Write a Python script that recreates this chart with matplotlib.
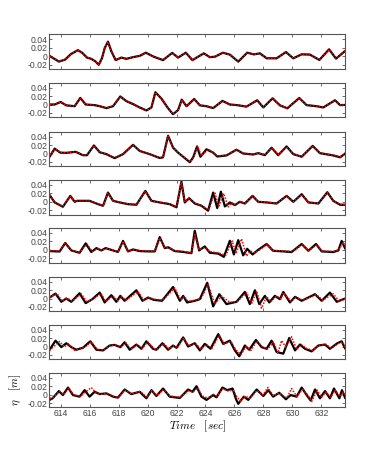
import matplotlib
matplotlib.use("Agg")
import matplotlib.pyplot as plt

# ---- data: (time [s], eta [m]) knots, panel by panel
t1 = [613.24, 613.88, 614.3, 614.7, 615.2, 615.5, 615.82, 616.12, 616.4, 616.63,
      616.85, 617.05, 617.27, 617.5, 617.8, 618.19, 618.54, 619.0, 619.46, 619.88,
      620.43, 621.07, 621.7, 622.11, 622.64, 623.1, 623.88, 624.3, 624.65, 625.2,
      625.68, 626.26, 626.88, 627.34, 627.76, 628.22, 628.91, 629.55, 630.06,
      630.64, 631.21, 631.86, 632.53, 633.01, 633.65]
eta1 = [0.001, -0.0125, -0.008, 0.005, 0.0145, 0.008, -0.003, -0.006, -0.012, -0.020,
        -0.005, 0.020, 0.0345, 0.012, -0.009, -0.003, -0.006, -0.002, 0.001, 0.0085,
        -0.001, -0.009, 0.008, -0.003, 0.0085, -0.009, 0.007, -0.002, -0.001, 0.0085,
        0.004, -0.0125, 0.0085, 0.0045, 0.007, -0.0047, -0.0047, 0.010, -0.0047,
        0.0047, 0.004, -0.0086, 0.0165, -0.0055, 0.013]

t2 = [613.24, 613.59, 614.0, 614.39, 614.97, 615.36, 615.73, 616.35, 616.7, 617.16,
      617.62, 618.12, 618.54, 619.0, 619.46, 619.92, 620.27, 620.54, 620.96, 621.42,
      621.76, 622.11, 622.36, 622.69, 623.22, 623.61, 624.07, 624.53, 625.17, 625.68,
      626.19, 626.83, 627.57, 627.99, 628.63, 629.14, 629.65, 630.47, 630.98, 631.67,
      632.13, 632.94, 633.29, 633.65]
eta2 = [0.0, 0.0, 0.006, -0.002, -0.004, 0.0155, 0.0, -0.0015, -0.004, -0.0085,
        -0.004, 0.019, 0.008, 0.001, -0.007, -0.014, -0.007, 0.029, 0.014, -0.009,
        -0.023, -0.013, 0.0115, -0.004, 0.013, -0.002, -0.004, -0.0085, 0.0085, 0.0,
        -0.0015, -0.005, 0.010, -0.007, 0.0146, -0.002, -0.009, 0.0154, -0.0015, -0.004,
        -0.007, 0.010, -0.0015, -0.001]

t3 = [613.24, 613.59, 613.98, 614.39, 615.04, 615.54, 615.82, 616.3, 616.7, 617.16,
      617.73, 618.31, 619.0, 619.46, 620.15, 620.84, 621.07, 621.42, 621.76, 622.11,
      622.92, 623.15, 623.42, 623.65, 624.07, 624.53, 624.81, 625.45, 626.14, 626.6,
      627.29, 627.64, 628.1, 628.56, 629.02, 629.6, 630.06, 630.64, 631.4, 631.9,
      632.82, 633.29, 633.65]
eta3 = [-0.0076, 0.0114, 0.002, 0.0015, 0.004, -0.004, -0.004, 0.019, 0.003, -0.0015,
        -0.011, -0.0015, 0.0205, 0.006, -0.0015, -0.0106, -0.009, 0.042, 0.014, 0.002,
        -0.0205, -0.009, 0.0167, -0.0076, 0.0099, 0.002, -0.007, -0.0046, 0.009, 0.0,
        -0.0023, 0.0008, -0.0038, 0.0137, -0.004, 0.0167, -0.0015, -0.0076, 0.018, 0.0008,
        -0.0046, -0.009, 0.0]
t3r = [613.24, 613.62, 614.0, 614.39, 615.04, 615.54, 615.82, 616.3, 616.7, 617.16,
       617.73, 618.31, 619.0, 619.46, 620.15, 620.84, 621.07, 621.42, 621.76, 622.11,
       622.95, 623.2, 623.45, 623.72, 624.2, 624.6, 624.85, 625.45, 626.14, 626.6,
       627.29, 627.64, 628.1, 628.56, 629.02, 629.6, 630.06, 630.64, 631.4, 631.9,
       632.82, 633.29, 633.65]
eta3r = [-0.004, 0.011, 0.002, 0.0015, 0.004, -0.004, -0.004, 0.0185, 0.003, -0.0015,
         -0.010, -0.0015, 0.020, 0.006, -0.0015, -0.010, -0.009, 0.041, 0.014, 0.002,
         -0.020, -0.008, 0.017, -0.005, 0.0099, 0.0, -0.006, -0.004, 0.009, 0.0,
         -0.002, 0.001, -0.003, 0.013, -0.003, 0.016, -0.001, -0.007, 0.018, 0.001,
         -0.004, -0.008, 0.001]

t4 = [613.24, 613.59, 614.16, 614.67, 614.97, 615.13, 615.5, 616.0, 616.58, 616.93,
      617.27, 617.62, 618.08, 618.65, 619.23, 619.85, 620.27, 620.84, 621.53, 622.0,
      622.34, 622.57, 622.87, 623.26, 623.72, 624.18, 624.53, 624.81, 625.06, 625.34,
      625.68, 626.03, 626.37, 626.72, 627.25, 627.64, 628.22, 628.91, 629.6, 630.06,
      630.64, 631.1, 631.79, 632.41, 632.82, 633.29, 633.65]
eta4 = [0.016, -0.0015, -0.0117, 0.014, 0.0, 0.0023, 0.0023, 0.0023, -0.0055, -0.0093,
        0.0218, 0.0023, -0.0015, -0.0055, -0.007, 0.0257, 0.0023, -0.0015, -0.0055, -0.013,
        0.0475, -0.0015, 0.0085, -0.004, -0.0093, -0.021, 0.0218, -0.0148, 0.024, -0.011,
        -0.0015, -0.0078, 0.0, -0.004, 0.014, 0.0, -0.0015, -0.004, 0.014, 0.0,
        0.018, -0.0015, -0.004, 0.0226, 0.0023, -0.007, -0.007]
t4r = [613.24, 613.59, 614.16, 614.67, 614.97, 615.13, 615.5, 616.0, 616.58, 616.93,
       617.27, 617.62, 618.08, 618.65, 619.23, 619.85, 620.27, 620.84, 621.53, 622.0,
       622.34, 622.57, 622.87, 623.26, 623.72, 624.22, 624.65, 624.92, 625.25, 625.57,
       625.8, 626.08, 626.4, 626.72, 627.25, 627.64, 628.22, 628.91, 629.6, 630.06,
       630.64, 631.1, 631.79, 632.41, 632.82, 633.29, 633.65]
eta4r = [0.016, -0.001, -0.011, 0.0135, 0.0, 0.002, 0.002, 0.002, -0.005, -0.009,
         0.021, 0.002, -0.001, -0.005, -0.006, 0.025, 0.002, -0.001, -0.005, -0.012,
         0.046, -0.001, 0.008, -0.003, -0.009, -0.019, 0.022, -0.012, 0.020, -0.012,
         -0.002, -0.007, 0.0, -0.004, 0.014, 0.0, -0.001, -0.004, 0.014, 0.0,
         0.017, -0.001, -0.004, 0.022, 0.002, -0.006, -0.007]

t5 = [613.24, 613.93, 614.32, 614.74, 615.31, 615.73, 616.12, 616.47, 616.81, 617.11,
      617.62, 617.96, 618.31, 618.65, 619.0, 619.46, 620.04, 620.5, 620.84, 621.19,
      621.42, 621.88, 622.46, 623.03, 623.26, 623.56, 623.95, 624.3, 624.88, 625.27,
      625.68, 625.96, 626.26, 626.6, 626.88, 627.25, 627.64, 628.22, 628.67, 629.37,
      629.94, 630.64, 631.1, 631.63, 632.02, 632.82, 633.17, 633.4, 633.65]
eta5 = [-0.003, -0.004, 0.016, -0.0015, -0.007, 0.0152, -0.0053, 0.004, -0.0015, 0.004,
        -0.0015, -0.005, 0.021, -0.0038, 0.0008, -0.003, -0.0038, -0.0038, 0.030, 0.004,
        0.006, -0.003, -0.005, -0.008, 0.045, -0.0015, 0.008, -0.007, -0.009, -0.0167,
        0.0213, -0.011, 0.0228, -0.013, 0.0023, -0.011, 0.0, 0.0137, -0.0023, -0.0038,
        -0.0053, 0.0137, -0.0023, 0.0137, -0.0038, -0.0053, -0.0015, 0.021, 0.0023]
t5r = [613.24, 613.93, 614.32, 614.74, 615.31, 615.82, 616.19, 616.55, 616.85, 617.15,
       617.62, 617.96, 618.31, 618.65, 619.0, 619.46, 620.04, 620.5, 620.84, 621.19,
       621.42, 621.88, 622.46, 623.03, 623.26, 623.56, 624.0, 624.3, 624.88, 625.4,
       625.85, 626.1, 626.49, 626.83, 627.1, 627.4, 627.75, 628.22, 628.67, 629.37,
       629.94, 630.7, 631.1, 631.7, 632.02, 632.82, 633.2, 633.5, 633.65]
eta5r = [-0.0015, -0.003, 0.016, -0.0015, -0.006, 0.0137, -0.004, 0.003, -0.001, 0.003,
         -0.001, -0.004, 0.020, -0.003, 0.001, -0.002, -0.003, -0.003, 0.028, 0.005,
         0.005, -0.002, -0.004, -0.007, 0.036, 0.0, 0.006, -0.004, -0.007, -0.013,
         0.021, -0.009, 0.026, -0.015, -0.003, -0.007, 0.0, 0.013, -0.002, -0.003,
         -0.004, 0.012, -0.002, 0.012, -0.003, -0.004, 0.0, 0.018, 0.008]

t6 = [613.24, 613.65, 614.05, 614.39, 614.74, 615.31, 615.73, 616.19, 616.7, 617.04,
      617.5, 617.85, 618.12, 618.42, 619.23, 619.65, 620.04, 620.43, 621.0, 621.76,
      622.23, 622.46, 622.73, 623.26, 623.61, 624.12, 624.53, 624.95, 625.45, 626.14,
      626.72, 627.06, 627.41, 627.71, 628.1, 628.4, 628.79, 629.14, 629.37, 629.83,
      630.18, 630.64, 631.56, 632.02, 632.59, 633.06, 633.52, 633.65]
eta6 = [0.0023, 0.0116, -0.0078, 0.0, -0.0078, 0.0124, -0.0109, -0.0016, 0.0140, -0.0093,
        0.0078, -0.0078, 0.0062, -0.0054, 0.0194, -0.0054, 0.0023, -0.0031, -0.0054, 0.0271,
        -0.0054, 0.0062, -0.0093, -0.0054, -0.0016, 0.0372, -0.0186, 0.0101, -0.0132, -0.0078,
        0.0155, -0.0132, 0.0194, -0.0132, 0.0062, -0.0093, 0.0062, -0.0016, 0.0155, -0.0093,
        0.0039, -0.0054, 0.0101, -0.0054, 0.0140, -0.0078, -0.0016, 0.0]
t6r = [613.24, 613.75, 614.1, 614.45, 614.8, 615.43, 615.82, 616.25, 616.8, 617.1,
       617.62, 617.95, 618.2, 618.5, 619.35, 619.75, 620.1, 620.5, 621.05, 621.88,
       622.3, 622.55, 622.8, 623.3, 623.7, 624.18, 624.65, 625.11, 625.68, 626.2,
       626.83, 627.2, 627.53, 627.87, 628.22, 628.5, 628.9, 629.2, 629.37, 629.9,
       630.25, 630.7, 631.65, 632.1, 632.82, 633.2, 633.52, 633.65]
eta6r = [0.003, 0.0116, -0.006, 0.001, -0.006, 0.011, -0.008, -0.001, 0.012, -0.007,
         0.006, -0.006, 0.005, -0.004, 0.016, -0.004, 0.002, -0.002, -0.004, 0.025,
         -0.004, 0.005, -0.007, -0.004, 0.0, 0.033, -0.013, 0.006, -0.009, -0.007,
         0.014, -0.011, 0.018, -0.023, 0.005, -0.008, 0.006, -0.001, 0.014, -0.006,
         0.003, -0.004, 0.009, -0.004, 0.011, -0.005, -0.003, -0.001]

t7 = [613.24, 613.65, 614.05, 614.39, 614.74, 615.08, 615.54, 616.05, 616.47, 616.93,
      617.39, 617.73, 618.12, 618.42, 618.77, 619.23, 619.58, 619.92, 620.38, 620.61,
      621.03, 621.42, 621.76, 622.0, 622.46, 622.8, 623.26, 623.61, 623.95, 624.35,
      624.88, 625.22, 625.68, 626.03, 626.33, 626.72, 627.02, 627.48, 627.87, 628.22,
      628.56, 628.91, 629.37, 629.78, 630.18, 630.52, 630.87, 631.33, 631.79, 632.25,
      632.59, 633.1, 633.4, 633.65]
eta7 = [-0.0077, 0.0138, -0.0015, 0.0077, -0.0015, -0.0077, -0.0031, 0.0123, -0.0077, -0.0092,
        0.0023, 0.0038, -0.0015, 0.0100, -0.0077, 0.0046, -0.0054, 0.0123, -0.0054, -0.0077,
        0.0077, -0.0077, 0.0023, -0.0031, 0.0215, 0.0, 0.0077, -0.0092, 0.0062, -0.0054,
        0.0292, 0.0062, 0.0138, -0.0092, -0.0231, 0.0023, -0.0077, 0.0154, -0.0015, -0.0054,
        0.0138, -0.0131, -0.0169, 0.0200, -0.0092, 0.0046, -0.0054, -0.0115, 0.0023, 0.0046,
        -0.0054, 0.0077, 0.0123, -0.0054]
t7r = [613.24, 613.93, 614.25, 614.55, 614.97, 615.3, 615.66, 616.12, 616.55, 617.0,
       617.45, 617.8, 618.2, 618.5, 618.85, 619.3, 619.65, 620.0, 620.45, 620.7,
       621.1, 621.5, 621.8, 622.05, 622.5, 622.85, 623.3, 623.7, 624.05, 624.45,
       624.95, 625.3, 625.75, 626.1, 626.45, 626.8, 627.15, 627.55, 627.95, 628.3,
       628.7, 629.0, 629.25, 629.55, 629.94, 630.3, 630.6, 630.95, 631.4, 631.85,
       632.3, 632.7, 633.15, 633.45, 633.65]
eta7r = [-0.009, 0.012, -0.001, 0.006, -0.009, -0.004, -0.002, 0.011, -0.007, -0.008,
         0.003, 0.003, -0.001, 0.009, -0.006, 0.004, -0.004, 0.011, -0.005, -0.006,
         0.007, -0.006, 0.002, -0.003, 0.020, 0.001, 0.007, -0.006, 0.005, -0.004,
         0.027, 0.006, 0.012, -0.008, -0.019, 0.0, -0.009, 0.013, -0.002, -0.006,
         0.011, -0.016, 0.014, -0.002, 0.023, -0.007, 0.005, -0.004, -0.009, 0.003,
         0.005, -0.004, 0.007, 0.011, -0.002]

t8 = [613.24, 613.45, 613.88, 614.16, 614.51, 614.85, 615.31, 615.66, 616.0, 616.35,
      616.7, 617.16, 617.62, 617.96, 618.42, 618.88, 619.46, 619.92, 620.27, 620.61,
      621.07, 621.53, 622.23, 622.8, 623.1, 623.38, 623.72, 624.07, 624.53, 624.76,
      625.17, 625.5, 625.87, 626.1, 626.26, 626.65, 626.95, 627.53, 627.99, 628.33,
      628.67, 629.09, 629.55, 629.88, 630.29, 630.64, 630.98, 631.26, 631.56, 631.9,
      632.25, 632.59, 632.87, 633.24, 633.42, 633.65]
eta8 = [-0.0123, -0.0085, 0.0085, -0.0008, 0.0169, -0.0008, -0.0046, 0.0108, -0.0046, 0.0069,
        0.0015, 0.0031, -0.0046, -0.0069, 0.0123, 0.0015, 0.0069, -0.0085, 0.0108, -0.0031,
        0.0146, -0.0046, -0.0077, 0.0123, 0.0069, 0.0200, -0.0046, -0.0123, -0.0008, -0.0062,
        0.0169, 0.0108, 0.0146, -0.0100, -0.0215, -0.0046, -0.0123, 0.0123, -0.0031, 0.0108,
        -0.0046, 0.0046, -0.0108, -0.0008, -0.0046, 0.0169, -0.0008, -0.0138, 0.0123, -0.0085,
        0.0085, -0.0085, 0.0146, -0.0085, 0.0108, -0.0085]
t8r = [613.24, 613.5, 613.93, 614.2, 614.55, 614.9, 615.35, 615.75, 616.12, 616.45,
       616.8, 617.2, 617.65, 618.0, 618.45, 618.9, 619.5, 619.95, 620.3, 620.65,
       621.1, 621.55, 622.25, 622.85, 623.15, 623.45, 623.8, 624.15, 624.55, 624.8,
       625.2, 625.55, 625.9, 626.2, 626.4, 626.75, 627.05, 627.55, 627.95, 628.3,
       628.7, 629.1, 629.6, 629.94, 630.3, 630.7, 631.05, 631.33, 631.7, 632.0,
       632.3, 632.65, 632.95, 633.3, 633.5, 633.65]
eta8r = [-0.0085, -0.006, 0.008, 0.0, 0.015, 0.0, -0.004, 0.007, 0.017, 0.004,
         0.001, 0.003, -0.004, -0.006, 0.011, 0.002, 0.008, -0.007, 0.009, -0.002,
         0.012, -0.003, -0.006, 0.010, 0.006, 0.016, -0.003, -0.008, 0.001, -0.003,
         0.014, 0.009, 0.011, -0.006, -0.015, -0.003, -0.009, 0.010, -0.001, 0.017,
         -0.003, 0.004, -0.008, 0.0146, -0.004, 0.012, 0.0, -0.016, 0.011, -0.006,
         0.006, -0.006, 0.011, -0.004, 0.006, 0.0]

# panels 1-2: model and measurement coincide
black = [(t1, eta1), (t2, eta2), (t3, eta3), (t4, eta4),
         (t5, eta5), (t6, eta6), (t7, eta7), (t8, eta8)]
red = [(t1, eta1), (t2, eta2), (t3r, eta3r), (t4r, eta4r),
       (t5r, eta5r), (t6r, eta6r), (t7r, eta7r), (t8r, eta8r)]

x_ticks = [614, 616, 618, 620, 622, 624, 626, 628, 630, 632]
y_ticks = [-0.02, 0, 0.02, 0.04]
y_ticklabels = ["-0.02", "0", "0.02", "0.04"]

# ---- figure ----------------------------------------------------------------
plt.rcParams["font.family"] = ["Liberation Sans", "DejaVu Sans"]
plt.rcParams["mathtext.fontset"] = "cm"

W, H = 382, 458
fig = plt.figure(figsize=(W / 100, H / 100), dpi=100)

tops = [34.3, 82.5, 131.5, 179.8, 227.8, 276.5, 324.5, 372.7]
ph = 34.7
left, right = 49.3, 345.3
axc = "#555555"

axes = []
for i, top in enumerate(tops):
    ax = fig.add_axes([left / W, 1 - (top + ph) / H, (right - left) / W, ph / H])
    tb, eb = black[i]
    tr, er = red[i]
    ax.plot(tb, eb, color="black", lw=1.6, solid_joinstyle="round",
            solid_capstyle="round")
    ax.plot(tr, er, color="red", lw=1.1, ls=(0, (1, 1)),
            dash_joinstyle="round")
    ax.set_xlim(613.22, 633.65)
    ax.set_ylim(-0.03, 0.052)
    ax.set_xticks(x_ticks)
    ax.set_yticks(y_ticks)
    ax.set_yticklabels(y_ticklabels)
    ax.tick_params(direction="in", length=2.2, width=0.6, color=axc,
                   labelsize=6.2, labelcolor="#444444", pad=1.5,
                   top=True, right=True)
    for s in ax.spines.values():
        s.set_color(axc)
        s.set_linewidth(0.8)
    if i < len(tops) - 1:
        ax.set_xticklabels([])
    axes.append(ax)

axes[-1].set_xlabel(r"$Time\quad[sec]$", fontsize=8, labelpad=0)
axes[-1].set_ylabel(r"$\eta\quad[m]$", fontsize=8, labelpad=3)

fig.savefig("out.png", dpi=100)
